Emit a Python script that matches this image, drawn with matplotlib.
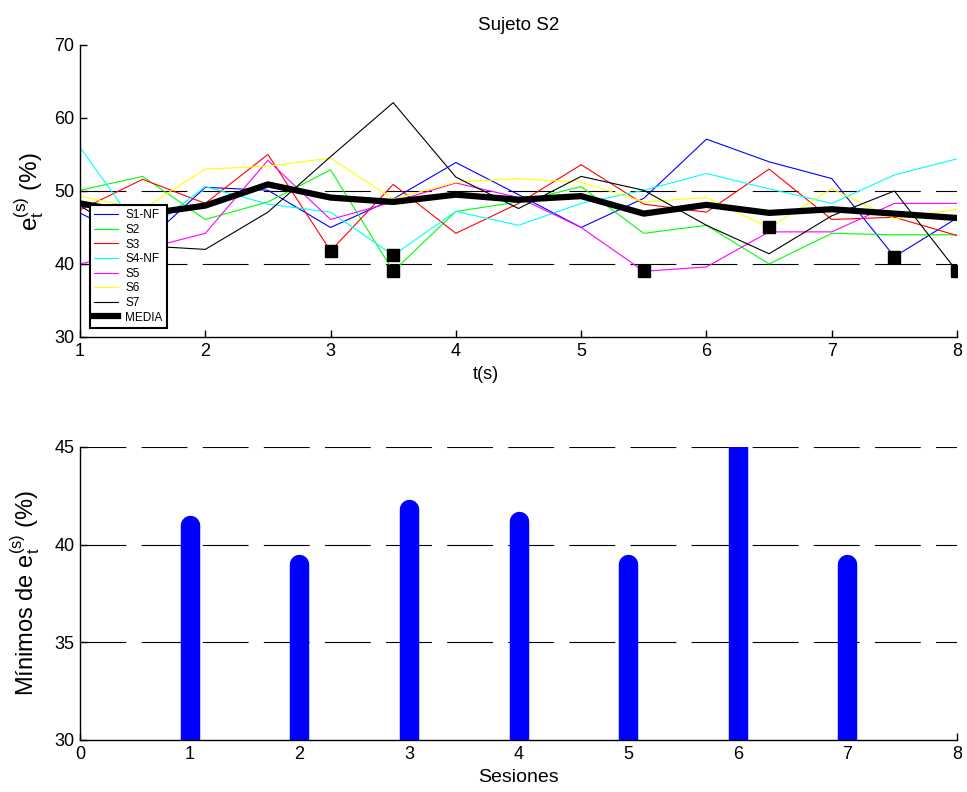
import numpy as np
import matplotlib
matplotlib.use("Agg")
from matplotlib import pyplot as plt

plt.rcParams['font.family'] = ['Liberation Sans', 'DejaVu Sans']
plt.rcParams['mathtext.fontset'] = 'custom'
plt.rcParams['mathtext.rm'] = 'Liberation Sans'
plt.rcParams['mathtext.it'] = 'Liberation Sans'
plt.rcParams['lines.scale_dashes'] = False

# time axis (s), one sample every half second
t = [1, 1.5, 2, 2.5, 3, 3.5, 4, 4.5, 5, 5.5, 6, 6.5, 7, 7.5, 8]

s1_nf = [47.0, 42.6, 50.5, 50.1, 45.0, 48.9, 53.9, 49.5, 45.0, 49.0, 57.1, 54.0, 51.7, 41.0, 46.3]
s2 = [50.1, 52.0, 46.1, 48.5, 52.9, 39.0, 47.2, 48.5, 50.6, 44.2, 45.3, 40.0, 44.2, 44.0, 44.0]
s3 = [47.4, 51.6, 48.3, 55.0, 41.8, 50.9, 44.2, 48.3, 53.6, 48.2, 47.1, 53.0, 46.1, 46.4, 43.9]
s4_nf = [56.0, 44.0, 50.6, 48.2, 47.1, 41.2, 47.2, 45.3, 48.3, 50.1, 52.4, 50.3, 48.3, 52.2, 54.4]
s5 = [40.0, 42.0, 44.2, 54.2, 46.1, 48.5, 51.1, 49.1, 45.0, 39.0, 39.6, 44.4, 44.4, 48.3, 48.3]
s6 = [49.3, 47.5, 53.0, 53.4, 54.5, 48.9, 51.2, 51.7, 51.2, 48.5, 49.1, 45.0, 50.3, 46.2, 47.5]
s7 = [48.0, 42.5, 42.0, 47.1, 54.7, 62.1, 51.9, 47.6, 52.0, 50.1, 45.3, 41.4, 46.6, 50.0, 39.0]
media = [48.3, 46.8, 48.0, 50.9, 49.1, 48.5, 49.5, 48.8, 49.3, 46.9, 48.1, 47.0, 47.5, 46.9, 46.3]

names = ['S1-NF', 'S2', 'S3', 'S4-NF', 'S5', 'S6', 'S7']
colores = ['#0000ff', '#00ff00', '#ff0000', '#00ffff', '#ff00ff', '#ffff00', 'k']
sesiones = [s1_nf, s2, s3, s4_nf, s5, s6, s7]

dash = (0, (33, 11))

fig = plt.figure(figsize=(9.67, 7.92), dpi=100)

# ---- upper panel: e_t per session and the mean
ax1 = fig.add_axes([0.0827, 0.5745, 0.907, 0.3687])
for lvl in [40, 50]:
    ax1.axhline(lvl, color='k', lw=0.8, ls=dash, zorder=1)
for s, c, n in zip(sesiones, colores, names):
    ax1.plot(t, s, color=c, lw=0.8, label=n, zorder=2)
ax1.plot(t, media, color='k', lw=4.5, label='MEDIA', zorder=3)

# minimum of each session
imin = [int(np.argmin(s)) for s in sesiones]
ax1.plot([t[i] for i in imin], [s[i] for s, i in zip(sesiones, imin)],
         's', color='k', ms=9, zorder=4)

ax1.set_xlim(1, 8)
ax1.set_ylim(30, 70)
ax1.set_xticks(range(1, 9))
ax1.set_yticks([30, 40, 50, 60, 70])
ax1.set_title('Sujeto S2', fontsize=13.5, pad=11)
ax1.set_xlabel('t(s)', fontsize=13, labelpad=4)
ax1.xaxis.set_label_coords(0.463, -0.1)
ax1.set_ylabel(r'$\mathrm{e_t^{(s)}}$ (%)', fontsize=17.5, labelpad=6)
leg = ax1.legend(loc='lower left', bbox_to_anchor=(0.011, 0.03), borderaxespad=0,
                 fontsize=8.5, fancybox=False, edgecolor='k', framealpha=1,
                 handlelength=2.0, handletextpad=0.6, labelspacing=0.22,
                 borderpad=0.4)
leg.get_frame().set_linewidth(1.5)

# ---- lower panel: minimum per session
mins = [min(s) for s in sesiones]
n_ses = list(range(1, len(sesiones) + 1))

ax2 = fig.add_axes([0.0827, 0.0657, 0.907, 0.370])
for lvl in [35, 40, 45]:
    ax2.axhline(lvl, color='k', lw=0.8, ls=dash, zorder=1)
ax2.vlines(n_ses, 29, mins, color='#0000ff', lw=14, capstyle='round', zorder=2)
ax2.set_xlim(0, 8)
ax2.set_ylim(30, 45)
ax2.set_xticks(range(0, 9))
ax2.set_yticks([30, 35, 40, 45])
ax2.set_xlabel('Sesiones', fontsize=14, labelpad=5)
ax2.set_ylabel(r'Mínimos de $\mathrm{e_t^{(s)}}$ (%)', fontsize=17, labelpad=9)

for ax in (ax1, ax2):
    ax.spines['top'].set_visible(False)
    ax.spines['right'].set_visible(False)
    for sp in ('left', 'bottom'):
        ax.spines[sp].set_linewidth(1.0)
    ax.tick_params(direction='in', length=5, width=1.0, labelsize=13, pad=4)

fig.savefig('out.png', dpi=100)
